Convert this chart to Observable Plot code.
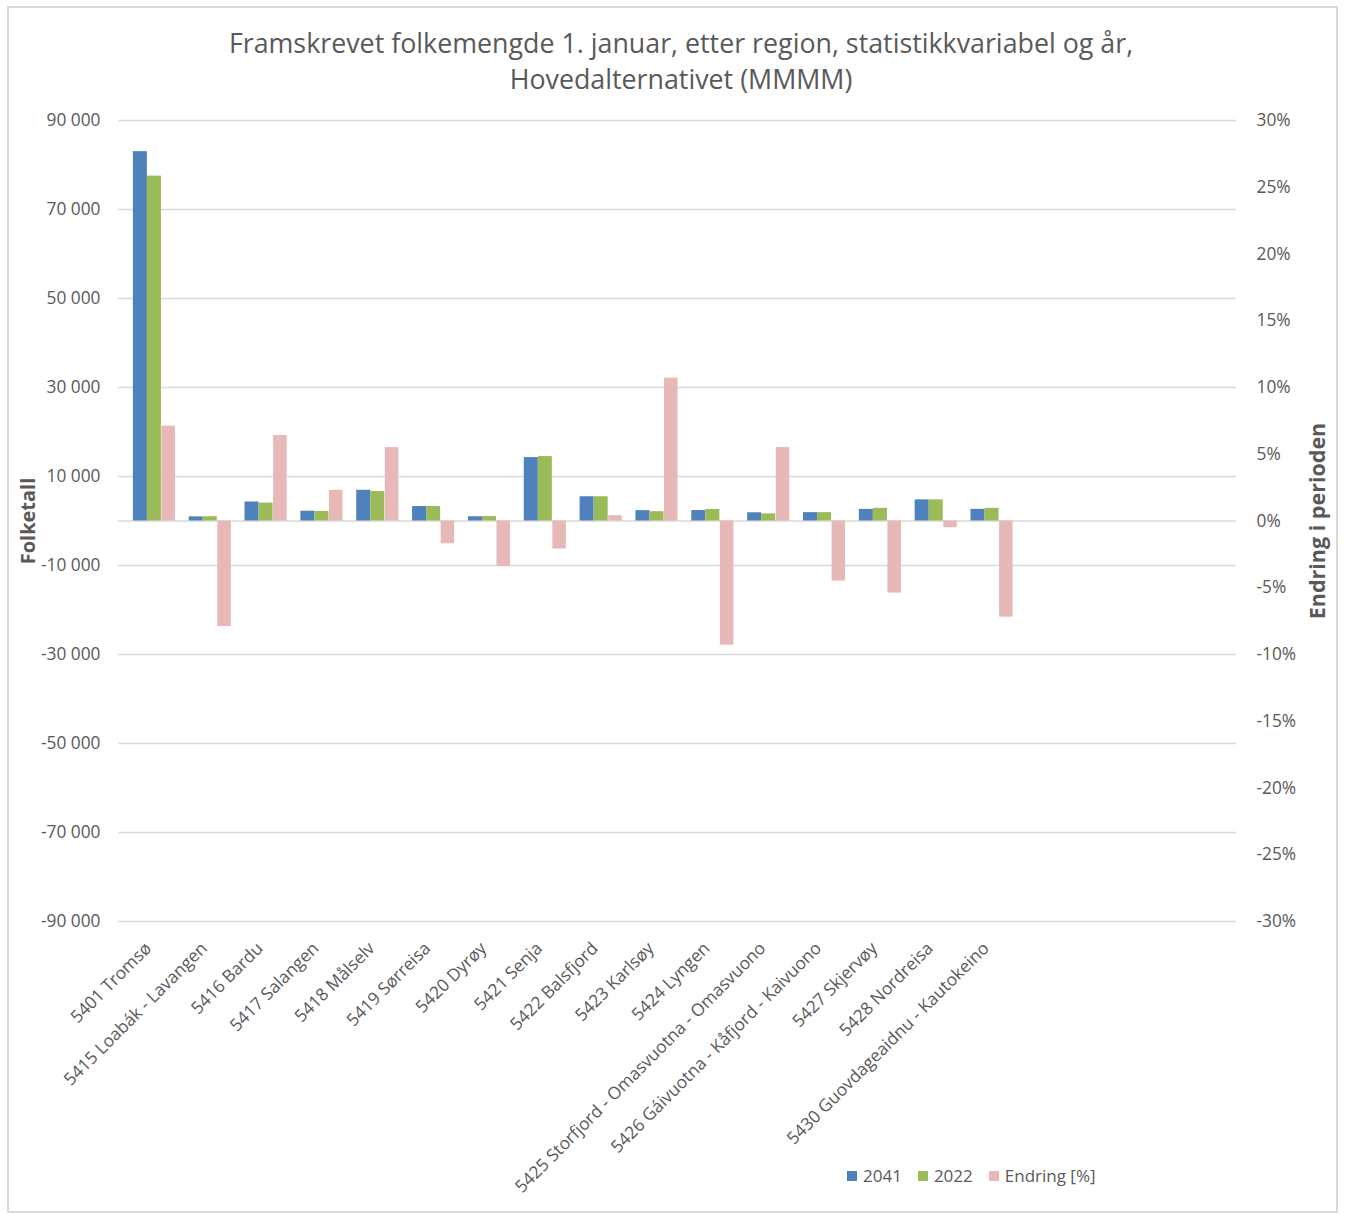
<!DOCTYPE html>
<html>
<head>
<meta charset="utf-8">
<script src="https://cdn.jsdelivr.net/npm/d3@7"></script>
<script src="https://cdn.jsdelivr.net/npm/@observablehq/plot@0.6"></script>
<style>
  body { margin: 0; background: #fff; font-family: "Open Sans", sans-serif; }
  #chart { position: relative; width: 1346px; height: 1214px; overflow: hidden; }
  #frame { position: absolute; left: 7px; top: 6px; width: 1327px; height: 1203px; border: 2px solid #d9d9d9; }
  #title { position: absolute; left: 0; top: 25px; width: 1362px; text-align: center;
           font-size: 26.8px; line-height: 36px; color: #595959; }
  #plot { position: absolute; left: 0; top: 0; }
  #legend { position: absolute; left: 847px; top: 1163px; display: flex; align-items: center;
            font-size: 17px; color: #595959; line-height: 26px; }
  #legend .sw { width: 10px; height: 10px; margin-right: 6px; }
  #legend .it { display: flex; align-items: center; margin-right: 16px; }
</style>
</head>
<body>
<div id="chart">
  <div id="frame"></div>
  <div id="title">Framskrevet folkemengde 1. januar, etter region, statistikkvariabel og år,<br>Hovedalternativet (MMMM)</div>
  <div id="plot"></div>
  <div id="legend"></div>
</div>
<script>
// Municipalities in Troms, projected population (main alternative MMMM)
const regions = [
  "5401 Tromsø",
  "5415 Loabák - Lavangen",
  "5416 Bardu",
  "5417 Salangen",
  "5418 Målselv",
  "5419 Sørreisa",
  "5420 Dyrøy",
  "5421 Senja",
  "5422 Balsfjord",
  "5423 Karlsøy",
  "5424 Lyngen",
  "5425 Storfjord - Omasvuotna - Omasvuono",
  "5426 Gáivuotna - Kåfjord - Kaivuono",
  "5427 Skjervøy",
  "5428 Nordreisa",
  "5430 Guovdageaidnu - Kautokeino"
];
const pop2041 = [83000, 930, 4270, 2200, 6900, 3250, 960, 14250, 5450, 2330, 2350, 1850, 1880, 2600, 4750, 2620];
const pop2022 = [77500, 960, 4020, 2150, 6650, 3250, 990, 14480, 5450, 2100, 2600, 1600, 1880, 2850, 4750, 2850];
const changePct = [7.1, -7.9, 6.4, 2.3, 5.5, -1.7, -3.4, -2.1, 0.4, 10.7, -9.3, 5.5, -4.5, -5.4, -0.5, -7.2];

// Category slots on the x axis (the last four are empty)
const slotCount = 20;
const leftTicks = d3.range(-90000, 90001, 20000);
const pctTicks = d3.range(-30, 31, 5);

const series = [
  {name: "2041", color: "#4f81bd"},
  {name: "2022", color: "#9bbb59"},
  {name: "Endring [%]", color: "#e6b9b8"}
];

const slots = d3.range(slotCount);
const rows = regions.map((r, i) => ({i, region: r, a: pop2041[i], b: pop2022[i], p: changePct[i]}));

const W = 1346, H = 1214, mL = 118, mR = 110, mT = 120, mB = 293;
const xOpts = {type: "band", domain: slots, paddingInner: 0.246, paddingOuter: 0.133, align: 1, round: false};
const bw = Plot.scale({x: {...xOpts, range: [mL, W - mR]}}).bandwidth;

// Secondary axis: 30 % on the right lines up with 90 000 on the left
const k = 90000 / 30;
const fmtN = v => (v < 0 ? "-" : "") + d3.format(",")(Math.abs(v)).replace(/,/g, " ");

const chart = Plot.plot({
  width: W, height: H,
  marginLeft: mL, marginRight: mR, marginTop: mT, marginBottom: mB,
  style: {fontFamily: '"Open Sans", sans-serif', fontSize: "17.3px", color: "#595959", background: "transparent"},
  x: {...xOpts, axis: null},
  y: {domain: [-90000, 90000], axis: null},
  marks: [
    Plot.ruleY([...leftTicks, 0], {stroke: "#d9d9d9", strokeWidth: 1.5}),
    Plot.barY(rows, {x: "i", y: "a", fill: series[0].color, insetRight: bw * 2 / 3}),
    Plot.barY(rows, {x: "i", y: "b", fill: series[1].color, insetLeft: bw / 3, insetRight: bw / 3}),
    Plot.barY(rows, {x: "i", y: d => d.p * k, fill: series[2].color, insetLeft: bw * 2 / 3 + 0.5}),
    Plot.axisY(leftTicks, {anchor: "left", tickSize: 0, tickPadding: 18, tickFormat: fmtN, label: null}),
    Plot.axisY(pctTicks.map(p => p * k), {anchor: "right", tickSize: 0, tickPadding: 20,
      tickFormat: v => `${Math.round(v / k)}%`, label: null}),
    Plot.axisX(slots, {anchor: "bottom", tickSize: 0, tickPadding: 24, tickRotate: -45, dx: -6,
      tickFormat: i => regions[i] ?? "", label: null}),
    Plot.text(["Folketall"], {text: d => d, frameAnchor: "left", dx: -90, rotate: -90,
      textAnchor: "middle", fontWeight: "bold", fontSize: 20, fill: "#595959"}),
    Plot.text(["Endring i perioden"], {text: d => d, frameAnchor: "right", dx: 82, rotate: -90,
      textAnchor: "middle", fontWeight: "bold", fontSize: 21.5, fill: "#595959"})
  ]
});
document.getElementById("plot").appendChild(chart);

// Legend below the plot
const legend = d3.select("#legend");
for (const s of series) {
  const it = legend.append("div").attr("class", "it");
  it.append("div").attr("class", "sw").style("background", s.color);
  it.append("span").text(s.name);
}
</script>
</body>
</html>
